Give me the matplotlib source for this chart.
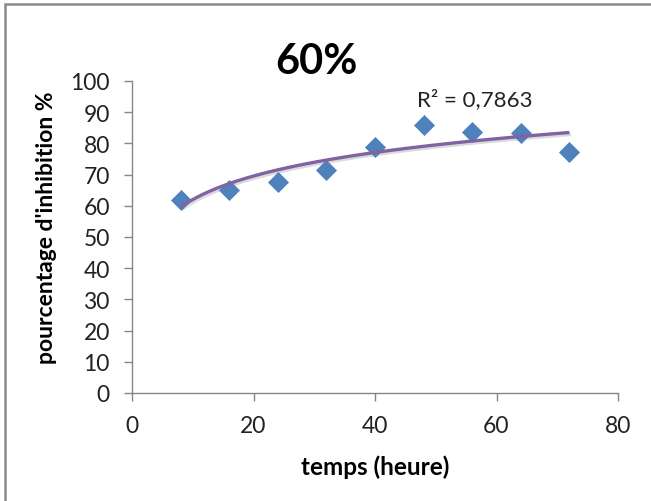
import numpy as np
import matplotlib
matplotlib.use("Agg")
import matplotlib.pyplot as plt
from matplotlib.patches import Rectangle

plt.rcParams['font.family'] = ['Lato', 'DejaVu Sans']

# Data
temps = [8, 16, 24, 32, 40, 48, 56, 64, 72]
inhibition = [61.9, 65.1, 67.5, 71.6, 79.0, 86.0, 83.8, 83.3, 77.3]
title = "60%"
r2_label = "R² = 0,7863"
xticks = [0, 20, 40, 60, 80]
yticks = list(range(0, 101, 10))

W, H = 651, 502
fig = plt.figure(figsize=(W / 100, H / 100), dpi=100)
ax = fig.add_axes([132 / W, (H - 394) / H, (618 - 132) / W, (394 - 82) / H])

# logarithmic trendline (least squares on ln x)
x = np.array(temps, float)
y = np.array(inhibition, float)
a, b = np.polyfit(np.log(x), y, 1)
xs = np.linspace(x.min(), x.max(), 200)
ys = a * np.log(xs) + b

ax.plot(xs + 0.25, ys - 0.6, color='#9a9a9a', lw=2.6, alpha=0.35, zorder=2,
        solid_capstyle='butt')
ax.plot(xs, ys, color='#8064A2', lw=2.4, zorder=4, solid_capstyle='butt')
ax.plot(temps, inhibition, linestyle='none', marker='D', ms=10.5,
        color='#4F81BD', markeredgecolor='#4A7EBB', markeredgewidth=0.5, zorder=3)

ax.set_xlim(0, 80)
ax.set_ylim(0, 100)
ax.set_xticks(xticks)
ax.set_yticks(yticks)
for s in ['top', 'right']:
    ax.spines[s].set_visible(False)
for s in ['left', 'bottom']:
    ax.spines[s].set_color('#868686')
    ax.spines[s].set_linewidth(1.0)
ax.tick_params(axis='both', direction='out', length=6, width=1.0,
               color='#868686', labelsize=16.5, labelcolor='#222222')
ax.tick_params(axis='x', pad=10)
ax.tick_params(axis='y', pad=10)

ax.set_xlabel("temps (heure)", fontsize=17.5, fontweight='bold', va='center')
ax.set_ylabel("pourcentage d'inhibition %", fontsize=16.5, fontweight='bold', va='center')
ax.xaxis.set_label_coords(0.5, (394 - 467) / 312)
ax.yaxis.set_label_coords((47 - 132) / 486, (394 - 228) / 312)

fig.text(316 / W, 1 - 62 / H, title, fontsize=30, fontweight='bold',
         ha='center', va='center')
ax.text(46.9, 94.3, r2_label, fontsize=16, ha='left', va='center', color='#222222')

# outer chart border
fig.patches.append(Rectangle((5 / W, -0.1), 1.2, 1 - 5 / H + 0.1,
                             transform=fig.transFigure, fill=False,
                             edgecolor='#8a8a8a', lw=1.8))

fig.savefig('out.png', dpi=100)
